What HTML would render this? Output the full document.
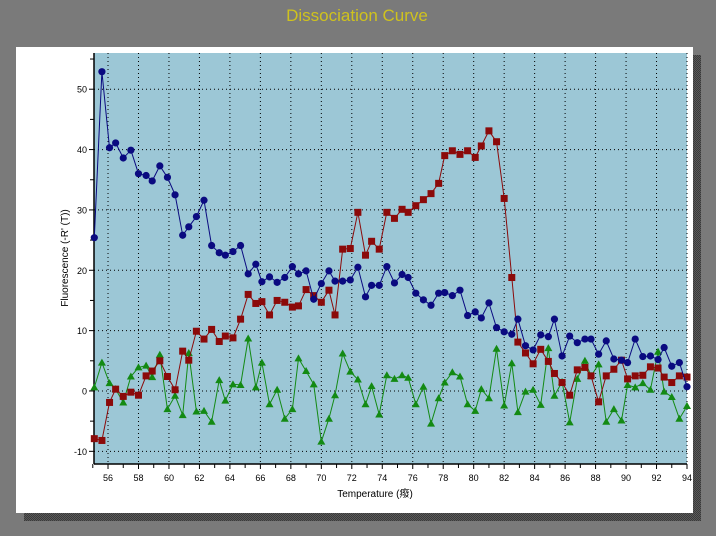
<!DOCTYPE html>
<html><head><meta charset="utf-8"><style>
body{margin:0;background:#7a7a7a;width:716px;height:531px;overflow:hidden;font-family:"Liberation Sans","Noto Sans CJK SC",sans-serif}
</style></head><body>
<svg width="716" height="531" id="chart" xmlns="http://www.w3.org/2000/svg">
<defs><pattern id="hatch" width="2" height="2" patternUnits="userSpaceOnUse"><rect width="2" height="2" fill="#5a5a5a"/><rect width="1" height="1" fill="#3a3a3a"/><rect x="1" y="1" width="1" height="1" fill="#3a3a3a"/></pattern></defs>
<rect x="0" y="0" width="716" height="531" fill="#7a7a7a"/>
<text x="357" y="21" text-anchor="middle" font-size="17" fill="#cfc21e">Dissociation Curve</text>
<rect x="24" y="55" width="677" height="466" fill="url(#hatch)"/>
<rect x="16" y="47" width="677" height="466" fill="#ffffff"/>
<rect x="94" y="53" width="593" height="411" fill="#9cc7d6"/>
<g id="grid"></g>
<g id="axes"></g>
<g id="series"></g>
<text x="0" y="0" transform="translate(68,258) rotate(-90)" text-anchor="middle" font-size="10" fill="#000">Fluorescence (-R' (T))</text>
<text x="375" y="497" text-anchor="middle" font-size="10" fill="#000">Temperature (癈)</text>
</svg>
<script>
const temps=[55.1,55.6,56.1,56.5,57.0,57.5,58.0,58.5,58.9,59.4,59.9,60.4,60.9,61.3,61.8,62.3,62.8,63.3,63.7,64.2,64.7,65.2,65.7,66.1,66.6,67.1,67.6,68.1,68.5,69.0,69.5,70.0,70.5,70.9,71.4,71.9,72.4,72.9,73.3,73.8,74.3,74.8,75.3,75.7,76.2,76.7,77.2,77.7,78.1,78.6,79.1,79.6,80.1,80.5,81.0,81.5,82.0,82.5,82.9,83.4,83.9,84.4,84.9,85.3,85.8,86.3,86.8,87.3,87.7,88.2,88.7,89.2,89.7,90.1,90.6,91.1,91.6,92.1,92.5,93.0,93.5,94.0];
const blueVals=[25.4,52.9,40.3,41.1,38.6,39.9,36.0,35.7,34.8,37.3,35.4,32.5,25.8,27.2,28.9,31.6,24.1,22.9,22.5,23.1,24.1,19.4,21.0,18.1,18.9,18.0,18.8,20.6,19.4,19.9,15.2,17.8,19.9,18.2,18.2,18.4,20.5,15.6,17.5,17.5,20.6,17.9,19.3,18.8,16.2,15.1,14.2,16.2,16.3,15.8,16.7,12.5,13.1,12.1,14.6,10.5,9.8,9.4,11.9,7.5,6.8,9.3,9.0,11.9,5.8,9.1,8.0,8.6,8.6,6.1,8.3,5.3,5.1,4.7,8.6,5.7,5.8,5.2,7.2,4.1,4.7,0.7];
const redVals=[-7.9,-8.2,-1.9,0.3,-0.9,-0.2,-0.7,2.5,3.3,5.0,2.4,0.2,6.6,5.1,9.9,8.6,10.2,8.2,9.1,8.8,11.9,16.0,14.5,14.8,12.6,15.0,14.7,13.9,14.1,16.8,15.8,14.7,16.7,12.6,23.5,23.6,29.6,22.5,24.8,23.5,29.6,28.6,30.1,29.6,30.7,31.7,32.7,34.4,39.0,39.8,39.2,39.8,38.7,40.6,43.1,41.3,31.9,18.8,8.1,6.3,4.5,6.9,4.9,2.9,1.4,-0.7,3.5,3.9,2.5,-1.8,2.5,3.6,5.1,2.0,2.5,2.6,4.0,3.8,2.3,1.4,2.5,2.3];
const greenVals=[0.6,4.7,1.3,0.3,-1.9,2.4,3.9,4.2,2.3,6.0,-3.0,-0.8,-4.0,6.3,-3.4,-3.3,-5.1,1.8,-1.6,1.1,1.0,8.7,0.6,4.7,-2.2,0.2,-4.6,-3.0,5.4,3.3,1.1,-8.4,-4.6,-0.7,6.2,3.2,1.9,-2.2,0.8,-3.9,2.6,2.0,2.6,2.2,-2.2,0.7,-5.4,-1.2,1.4,3.1,2.4,-2.2,-3.3,0.3,-1.2,7.0,-2.4,4.6,-3.5,-0.1,0.2,-2.3,7.1,-0.8,1.5,-5.2,2.0,5.0,2.5,4.4,-5.1,-3.0,-4.9,1.0,0.6,1.3,0.2,6.5,-0.1,-1.0,-4.6,-2.5];
const xTicks=[56,58,60,62,64,66,68,70,72,74,76,78,80,82,84,86,88,90,92,94];
const yTicks=[-10,0,10,20,30,40,50];

const X0=94,X1=687,Y0=53,Y1=464,XMIN=55.08,XMAX=94,YMIN=-12.1,YMAX=56;
function sx(v){return X0+(v-XMIN)/(XMAX-XMIN)*(X1-X0);}
function sy(v){return Y1-(v-YMIN)/(YMAX-YMIN)*(Y1-Y0);}
const NS='http://www.w3.org/2000/svg';
function mk(tag,attrs,parent){const e=document.createElementNS(NS,tag);for(const k in attrs)e.setAttribute(k,attrs[k]);parent.appendChild(e);return e;}
const grid=document.getElementById('grid'),axes=document.getElementById('axes'),ser=document.getElementById('series');
xTicks.forEach(t=>{
  const l=mk('line',{x1:sx(t),x2:sx(t),y1:Y0,y2:Y1,stroke:'#000','stroke-width':1,'stroke-dasharray':'1,3'},grid);
  
  
  const tk=mk('line',{x1:sx(t),x2:sx(t),y1:Y1,y2:Y1+5,stroke:'#000'},axes);
  
  
  const m=mk('line',{x1:sx(t-1),x2:sx(t-1),y1:Y1,y2:Y1+4,stroke:'#000'},axes);
  
  
  const tx=mk('text',{x:sx(t),y:Y1+17,'text-anchor':'middle','font-size':9,fill:'#000'},axes);
  tx.textContent=t;
  
  
});
yTicks.forEach(t=>{
  const l=mk('line',{x1:X0,x2:X1,y1:sy(t),y2:sy(t),stroke:'#000','stroke-width':1,'stroke-dasharray':'1,3'},grid);
  
  
  const tk=mk('line',{x1:X0-5,x2:X0,y1:sy(t),y2:sy(t),stroke:'#000'},axes);
  
  
  const m=mk('line',{x1:X0-4,x2:X0,y1:sy(t+5),y2:sy(t+5),stroke:'#000'},axes);
  
  
  const tx=mk('text',{x:X0-7,y:sy(t)+3.5,'text-anchor':'end','font-size':9,fill:'#000'},axes);
  tx.textContent=t;
  
  
});
const ya=mk('line',{x1:X0,x2:X0,y1:Y0,y2:Y1,stroke:'#000','stroke-width':1.5},axes);


const xa=mk('line',{x1:X0,x2:X1,y1:Y1,y2:Y1,stroke:'#000','stroke-width':1.5},axes);



function drawSeries(vals,color,shape,name){
  const g=mk('g',{},ser);
  
  
  const pts=vals.map((v,i)=>sx(temps[i]).toFixed(1)+','+sy(v).toFixed(1)).join(' ');
  const pl=mk('polyline',{points:pts,fill:'none',stroke:color,'stroke-width':1},g);
  
  
  vals.forEach((v,i)=>{
    const x=sx(temps[i]),y=sy(v);let m;
    if(shape==='circle')m=mk('circle',{cx:x,cy:y,r:3.6,fill:color},g);
    else if(shape==='square')m=mk('rect',{x:x-3.5,y:y-3.5,width:7,height:7,fill:color},g);
    else m=mk('polygon',{points:`${x},${y-4} ${x-4},${y+3} ${x+4},${y+3}`,fill:color},g);
    
    
  });
}
drawSeries(greenVals,'#138a13','tri','green');
drawSeries(redVals,'#8b0a0a','square','red');
drawSeries(blueVals,'#0a0a80','circle','blue');
</script>
</body></html>
